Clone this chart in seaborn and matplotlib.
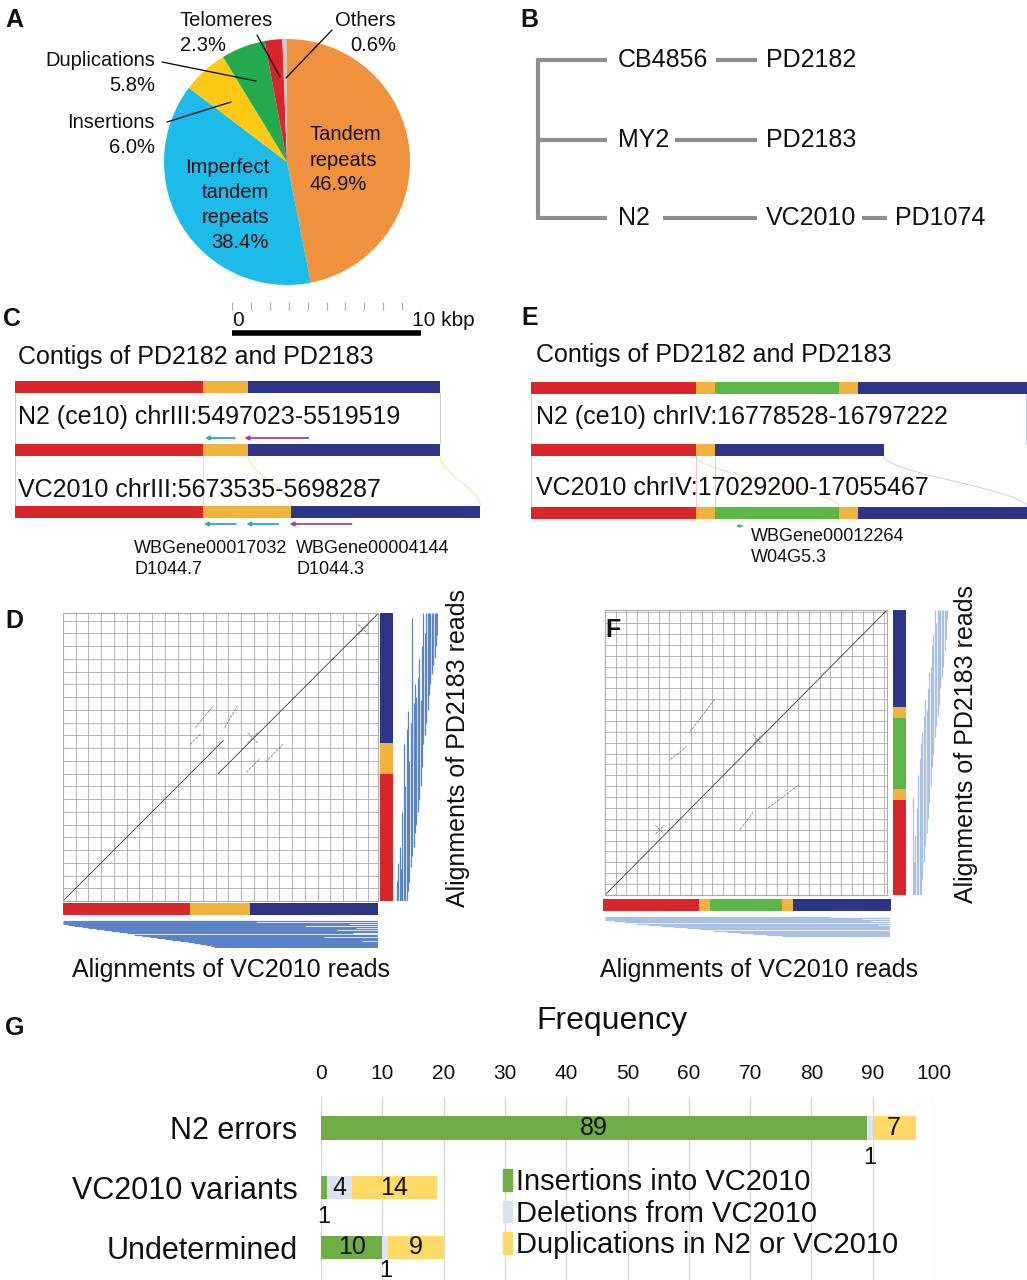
import numpy as np
import matplotlib
matplotlib.use('Agg')
import matplotlib.pyplot as plt
from matplotlib.patches import Patch
import seaborn as sns

sns.set_theme(style='white')
plt.rcParams['font.family'] = ['Liberation Sans', 'DejaVu Sans']
plt.rcParams['text.color'] = '#111111'
plt.rcParams['xtick.color'] = '#111111'
plt.rcParams['ytick.color'] = '#111111'

# ---------------- data ----------------
pie_labels = ['Tandem repeats', 'Imperfect tandem repeats', 'Insertions',
              'Duplications', 'Telomeres', 'Others']
pie_share = [46.9, 38.4, 6.0, 5.8, 2.3, 0.6]
pie_colors = ['#F0923D', '#1CBBEA', '#FDC913', '#24AA4F', '#D8262C', '#C9C9C9']

strains_wild = ['CB4856', 'MY2', 'N2']
strains_derived = ['PD2182', 'PD2183', 'VC2010']
strain_final = 'PD1074'

RED, YEL, BLU, GRN = '#D9262B', '#F2B33D', '#2C3587', '#5CB748'

# contig pieces in kbp (panel C / D)
c_colors = [RED, YEL, BLU]
c_contig_len = [10.0, 2.4, 10.2]
c_n2_len = [10.0, 2.4, 10.2]
c_vc_len = [10.0, 4.7, 10.05]
c_gene_n2_start = [11.7, 15.6]
c_gene_n2_end = [10.1, 12.2]
c_gene_n2_col = ['#2BB0A8', '#A040B0']
c_gene_vc_start = [11.75, 14.0, 17.9]
c_gene_vc_end = [10.05, 12.3, 14.6]
c_gene_vc_col = ['#2BB0A8', '#2BB0A8', '#A040B0']

# contig pieces in kbp (panel E / F)
e_colors = [RED, YEL, GRN, YEL, BLU]
e_contig_len = [8.73, 1.0, 6.56, 1.0, 8.94]
e_n2_len = [8.73, 1.0, 8.94]
e_n2_colors = [RED, YEL, BLU]
e_vc_len = [8.73, 1.0, 6.56, 1.0, 8.94]

# dot plot alignments (x = VC2010 kbp, y = PD2183 kbp); first two are the main lines
d_seg_x0 = [0.0, 12.2, 10.4, 12.7, 10.0, 14.4, 15.9, 14.5, 14.5, 23.2, 23.2]
d_seg_y0 = [0.0, 10.0, 13.6, 13.6, 12.3, 10.1, 10.9, 12.4, 13.2, 20.9, 21.7]
d_seg_x1 = [12.6, 24.75, 11.8, 13.7, 10.8, 15.5, 17.3, 15.3, 15.3, 24.0, 24.0]
d_seg_y1 = [12.6, 22.55, 15.3, 15.3, 13.1, 11.2, 12.3, 13.2, 12.4, 21.7, 20.9]

f_seg_x0 = [0.0, 6.1, 7.9, 12.6, 15.2, 4.7, 4.7, 13.8, 13.8]
f_seg_y0 = [0.0, 12.45, 15.0, 6.0, 8.0, 5.6, 6.4, 13.9, 14.7]
f_seg_x1 = [26.27, 7.6, 10.25, 13.8, 18.0, 5.5, 5.5, 14.6, 14.6]
f_seg_y1 = [26.2, 13.65, 18.0, 7.6, 10.1, 6.4, 5.6, 14.7, 13.9]

# read alignments (kbp)
d_vc_start = [0, 0, 0, 0, 0.4, 0.9, 1.5, 2.0, 2.6, 3.2, 3.8, 4.4, 5.0, 5.6, 6.2,
              6.8, 7.4, 8.0, 8.6, 9.2, 9.8, 10.3, 10.8, 11.2, 11.6, 11.9]
d_vc_end = [24.75, 15.2, 24.75, 22.5, 24.75, 19.0, 24.75, 23.0, 24.75, 21.5, 24.75,
            24.75, 22.8, 24.75, 24.75, 20.5, 24.75, 24.75, 24.75, 23.5, 24.75,
            24.75, 24.75, 24.75, 24.75, 24.75]
d_pd_start = [0, 0, 0, 0, 0, 0, 0, 0, 0.8, 1.5, 2.7, 3.5, 4.2, 5.3, 6.0, 7.0, 7.9,
              9.0, 10.5, 12.3, 13.0, 14.0, 15.0, 16.2, 17.0, 17.8, 18.5, 19.1,
              20.0, 20.9]
d_pd_end = [1.6, 3.0, 4.2, 2.5, 7.0, 12.3, 9.0, 13.5, 14.9, 11.0, 14.0, 22.2, 15.5,
            17.0, 16.0, 17.5, 19.0, 15.8, 20.0, 22.6, 21.0, 22.6, 22.6, 22.6,
            22.6, 22.6, 22.6, 22.6, 22.6, 22.6]
f_vc_start = [0, 0, 0, 0, 0.8, 1.8, 2.9, 4.0, 5.2, 6.4, 7.6, 8.8, 10.0, 11.2,
              12.4, 13.6, 14.9, 16.3]
f_vc_end = [20.7, 26.27, 23.7, 26.27, 24.5, 26.27, 26.27, 25.2, 26.27, 26.27,
            26.27, 26.27, 26.27, 26.27, 26.27, 26.27, 26.27, 26.27]
f_pd_start = [0, 0, 0, 0, 0, 0, 0, 1.5, 3.0, 4.5, 5.7, 7.0, 8.5, 10.0, 11.8,
              13.0, 14.5, 15.5, 16.4, 17.5, 19.0, 20.0, 21.0, 22.5, 23.5, 25.4]
f_pd_end = [9.0, 3.0, 5.5, 8.0, 11.0, 12.5, 14.0, 15.0, 16.5, 18.0, 17.0, 19.0,
            20.5, 21.0, 23.0, 24.0, 26.2, 25.0, 26.2, 26.2, 26.2, 26.2, 26.2,
            26.2, 26.2, 26.2]

# panel G
g_categories = ['N2 errors', 'VC2010 variants', 'Undetermined']
g_series = ['Insertions into VC2010', 'Deletions from VC2010',
            'Duplications in N2 or VC2010']
g_insert = np.array([89, 1, 10])
g_delete = np.array([1, 4, 1])
g_dup = np.array([7, 14, 9])
g_colors = ['#70AD47', '#DAE3F3', '#FFD966']

# ---------------- figure ----------------
W, H = 1027, 1280
fig = plt.figure(figsize=(W / 100, H / 100), dpi=100)


def px_axes(x0, y0, x1, y1):
    ax = fig.add_axes([x0 / W, 1 - y1 / H, (x1 - x0) / W, (y1 - y0) / H])
    ax.patch.set_visible(False)
    return ax


def draw_contig(ax, lengths, colors, y, h):
    lefts = np.concatenate([[0], np.cumsum(lengths)[:-1]])
    ax.barh(y, lengths, left=lefts, height=h, color=colors, linewidth=0)


def link(ax, xa, xb, ya, yb, color):
    t = np.linspace(0, 1, 40)
    s = 3 * t ** 2 - 2 * t ** 3
    ax.plot(xa + (xb - xa) * s, ya + (yb - ya) * t, color=color, lw=0.6, alpha=0.5)


# A: pie
axp = px_axes(164, 39, 410, 285)
axp.pie(pie_share, colors=pie_colors, startangle=90, counterclock=False,
        radius=1, wedgeprops=dict(linewidth=0))
axp.set_xlim(-1, 1)
axp.set_ylim(-1, 1)

# C: contigs
axc = px_axes(15, 370, 520, 530)
axc.set_xlim(0, 505 / 18.8)
axc.set_ylim(530, 370)
axc.axis('off')
draw_contig(axc, c_contig_len, c_colors, 387, 12)
draw_contig(axc, c_n2_len, c_colors, 450, 12)
draw_contig(axc, c_vc_len, c_colors, 512, 12)
axc.plot([0, 0], [393, 444], color=RED, lw=0.6, alpha=0.35)
axc.plot([sum(c_n2_len)] * 2, [393, 444], color=BLU, lw=0.6, alpha=0.3)
axc.plot([0, 0], [456, 506], color=RED, lw=0.6, alpha=0.35)
link(axc, c_n2_len[0], c_vc_len[0], 456, 506, YEL)
link(axc, sum(c_n2_len[:2]), sum(c_vc_len[:2]), 456, 506, YEL)
link(axc, sum(c_n2_len), sum(c_vc_len), 456, 506, YEL)
for s, e, col in zip(c_gene_n2_start, c_gene_n2_end, c_gene_n2_col):
    axc.annotate('', xy=(e, 438), xytext=(s, 438),
                 arrowprops=dict(arrowstyle='-|>', color=col, lw=1.3,
                                 mutation_scale=6, shrinkA=0, shrinkB=0))
for s, e, col in zip(c_gene_vc_start, c_gene_vc_end, c_gene_vc_col):
    axc.annotate('', xy=(e, 524), xytext=(s, 524),
                 arrowprops=dict(arrowstyle='-|>', color=col, lw=1.3,
                                 mutation_scale=6, shrinkA=0, shrinkB=0))

# C: scale bar
axs = px_axes(232, 298, 421, 340)
axs.set_xlim(0, 10)
axs.set_ylim(340, 298)
axs.axis('off')
axs.vlines(np.arange(0, 11), 302, 310, color='#AAAAAA', lw=0.8)
axs.hlines(333, 0, 10, color='black', lw=4)

# E: contigs
axe = px_axes(531, 370, 1027, 530)
axe.set_xlim(0, 496 / 18.9)
axe.set_ylim(530, 370)
axe.axis('off')
draw_contig(axe, e_contig_len, e_colors, 388, 12)
draw_contig(axe, e_n2_len, e_n2_colors, 450, 12)
draw_contig(axe, e_vc_len, e_colors, 513, 12)
axe.plot([0.02, 0.02], [394, 507], color=RED, lw=0.6, alpha=0.35)
axe.plot([sum(e_contig_len) - 0.02] * 2, [394, 444], color=BLU, lw=0.6, alpha=0.3)
axe.plot([e_n2_len[0]] * 2, [456, 507], color=RED, lw=0.6, alpha=0.3)
axe.plot([sum(e_n2_len[:2])] * 2, [456, 507], color=RED, lw=0.6, alpha=0.3)
link(axe, e_n2_len[0], sum(e_vc_len[:3]), 456, 507, '#F0A080')
link(axe, sum(e_n2_len), sum(e_vc_len) - 0.02, 456, 507, '#8090D0')
axe.annotate('', xy=(10.85, 526), xytext=(11.2, 526),
             arrowprops=dict(arrowstyle='-|>', color='#2BB0A8', lw=1,
                             mutation_scale=4, shrinkA=0, shrinkB=0))


# D / F: dot plots
def dotplot(box, xlen, ylen, x0, y0, x1, y1, n_main):
    ax = px_axes(*box)
    ax.patch.set_visible(True)
    ax.set_facecolor('white')
    ax.set_xlim(0, xlen)
    ax.set_ylim(0, ylen)
    ax.set_xticks(np.arange(0, xlen, 1))
    ax.set_yticks(np.arange(0, ylen, 1))
    ax.grid(True, color='#AAAAAA', lw=0.6)
    ax.tick_params(length=0, labelbottom=False, labelleft=False)
    for sp in ax.spines.values():
        sp.set_color('#AAAAAA')
        sp.set_linewidth(0.8)
    for k, (a, b, c, d) in enumerate(zip(x0, y0, x1, y1)):
        if k < n_main:
            ax.plot([a, c], [b, d], color='#3A3A3A', lw=0.6)
        else:
            ax.plot([a, c], [b, d], color='#6A6A6A', lw=0.5, ls=(0, (4, 1.5)))
    return ax


def hbar(box, lengths, colors, xlen):
    ax = px_axes(*box)
    ax.set_xlim(0, xlen)
    ax.set_ylim(0, 1)
    ax.axis('off')
    draw_contig(ax, lengths, colors, 0.5, 1)


def vbar(box, lengths, colors, ylen):
    ax = px_axes(*box)
    ax.set_ylim(0, ylen)
    ax.set_xlim(0, 1)
    ax.axis('off')
    bottoms = np.concatenate([[0], np.cumsum(lengths)[:-1]])
    ax.bar(0.5, lengths, bottom=bottoms, width=1, color=colors, linewidth=0)


def reads_h(box, starts, ends, xlen, color):
    ax = px_axes(*box)
    ax.set_xlim(0, xlen)
    ax.set_ylim(len(starts) - 0.5, -0.5)
    ax.axis('off')
    ax.hlines(np.arange(len(starts)), starts, ends, color=color, lw=0.9)


def reads_v(box, starts, ends, ylen, color):
    ax = px_axes(*box)
    ax.set_ylim(0, ylen)
    ax.set_xlim(-0.5, len(starts) - 0.5)
    ax.axis('off')
    ax.vlines(np.arange(len(starts)), starts, ends, color=color, lw=0.9)


dotplot((63, 613, 378, 901), 24.75, 22.6, d_seg_x0, d_seg_y0, d_seg_x1, d_seg_y1, 2)
hbar((63, 903, 378, 915), c_vc_len, c_colors, 24.75)
vbar((380, 613, 393, 901), c_contig_len, c_colors, 22.6)
reads_h((63, 920, 378, 948), d_vc_start, d_vc_end, 24.75, '#5B84C8')
reads_v((396, 613, 438, 901), d_pd_start, d_pd_end, 22.6, '#5B84C8')

dotplot((605, 610, 887, 895), 26.27, 26.2, f_seg_x0, f_seg_y0, f_seg_x1, f_seg_y1, 1)
hbar((603, 899, 891, 911), e_vc_len, e_colors, sum(e_vc_len))
vbar((893, 610, 906, 895), e_contig_len, e_colors, sum(e_contig_len))
reads_h((605, 916, 890, 937), f_vc_start, f_vc_end, 26.27, '#A9C0E6')
reads_v((912, 610, 948, 895), f_pd_start, f_pd_end, 26.2, '#A9C0E6')

# G: stacked bars
axg = px_axes(321, 1097, 934, 1280)
sns.barplot(x=g_insert + g_delete + g_dup, y=g_categories, orient='h',
            color=g_colors[2], saturation=1, width=0.39, linewidth=0, ax=axg)
sns.barplot(x=g_insert + g_delete, y=g_categories, orient='h',
            color=g_colors[1], saturation=1, width=0.39, linewidth=0, ax=axg)
sns.barplot(x=g_insert, y=g_categories, orient='h',
            color=g_colors[0], saturation=1, width=0.39, linewidth=0, ax=axg)
axg.set_xlim(0, 100)
axg.set_ylim(2.55, -0.52)
axg.set_xlabel('')
axg.set_ylabel('')
axg.xaxis.tick_top()
axg.set_xticks(np.arange(0, 101, 10))
axg.tick_params(axis='x', length=0, pad=10, labelsize=15, labelcolor='#111111')
axg.tick_params(axis='y', length=0, pad=17, labelsize=22, labelcolor='#111111')
axg.grid(axis='x', color='#D9D9D9', lw=1)
axg.set_axisbelow(True)
for sp in axg.spines.values():
    sp.set_visible(False)
for i in range(len(g_categories)):
    left = 0
    for v in (g_insert[i], g_delete[i], g_dup[i]):
        if v == 1:
            axg.text(left + 0.5, i + 0.5 - 0.1 * (i == 2), '1', ha='center',
                     va='center', fontsize=17)
        elif v > 1:
            axg.text(left + v / 2, i, str(v), ha='center', va='center', fontsize=18)
        left += v
axg.legend(handles=[Patch(color=c) for c in g_colors], labels=g_series,
           loc='upper left', bbox_to_anchor=(503 / W, 1 - 1168 / H),
           bbox_transform=fig.transFigure, frameon=False, fontsize=21,
           handlelength=0.3, handleheight=0.75, handletextpad=0.15,
           labelspacing=0.12, borderpad=0, borderaxespad=0)

# ---------------- overlay: labels, tree, annotations ----------------
ov = px_axes(0, 0, W, H)
ov.set_xlim(0, W)
ov.set_ylim(H, 0)
ov.axis('off')

for lab, (x, y) in zip('ABCDEFG', [(5, 20), (520, 20), (3, 319), (5, 621),
                                   (521, 318), (605, 630), (5, 1028)]):
    ov.text(x, y, lab, fontsize=18, fontweight='bold', ha='left', va='center')

# pie labels
ov.text(310, 160, 'Tandem\nrepeats\n46.9%', ha='left', va='center',
        fontsize=14.5, linespacing=1.4)
ov.text(269, 205, 'Imperfect\ntandem\nrepeats\n38.4%', ha='right', va='center',
        fontsize=14.5, linespacing=1.4, multialignment='right')
ov.text(180, 33, 'Telomeres\n2.3%', ha='left', va='center', fontsize=14.5,
        linespacing=1.4)
ov.text(396, 33, 'Others\n0.6%', ha='right', va='center', fontsize=14.5,
        linespacing=1.4, multialignment='right')
ov.text(155, 73, 'Duplications\n5.8%', ha='right', va='center', fontsize=14.5,
        linespacing=1.4, multialignment='right')
ov.text(155, 135, 'Insertions\n6.0%', ha='right', va='center', fontsize=14.5,
        linespacing=1.4, multialignment='right')
for (xa, ya), (xb, yb) in [((162, 62), (256, 81)), ((167, 122), (231, 102)),
                           ((257, 35), (280, 77)), ((332, 30), (286, 78))]:
    ov.plot([xa, xb], [ya, yb], color='black', lw=0.9)

# B: strain tree
TG = '#8E8E8E'
ov.plot([538, 538], [58, 220], color=TG, lw=3, solid_capstyle='butt')
for y, wild, derived, x_from in zip([60, 140, 218], strains_wild, strains_derived,
                                    [716, 675, 663]):
    ov.plot([538, 607], [y, y], color=TG, lw=3, solid_capstyle='butt')
    ov.text(618, y, wild, ha='left', va='center', fontsize=18)
    ov.plot([x_from, 757], [y, y], color=TG, lw=3, solid_capstyle='butt')
    ov.text(766, y, derived, ha='left', va='center', fontsize=18)
ov.plot([862, 887], [218, 218], color=TG, lw=3, solid_capstyle='butt')
ov.text(895, 218, strain_final, ha='left', va='center', fontsize=18)

# C / E texts
ov.text(232, 320, '0', ha='left', va='center', fontsize=15)
ov.text(412, 320, '10 kbp', ha='left', va='center', fontsize=15)
ov.text(18, 357, 'Contigs of PD2182 and PD2183', ha='left', va='center', fontsize=18)
ov.text(18, 417, 'N2 (ce10) chrIII:5497023-5519519', ha='left', va='center', fontsize=18)
ov.text(18, 490, 'VC2010 chrIII:5673535-5698287', ha='left', va='center', fontsize=18)
ov.text(134, 559, 'WBGene00017032\nD1044.7', ha='left', va='center', fontsize=13,
        linespacing=1.3)
ov.text(296, 559, 'WBGene00004144\nD1044.3', ha='left', va='center', fontsize=13,
        linespacing=1.3)
ov.text(536, 355, 'Contigs of PD2182 and PD2183', ha='left', va='center', fontsize=18)
ov.text(536, 417, 'N2 (ce10) chrIV:16778528-16797222', ha='left', va='center', fontsize=18)
ov.text(536, 488, 'VC2010 chrIV:17029200-17055467', ha='left', va='center', fontsize=18)
ov.text(751, 547, 'WBGene00012264\nW04G5.3', ha='left', va='center', fontsize=13,
        linespacing=1.3)

# D / F axis captions
ov.text(231, 970, 'Alignments of VC2010 reads', ha='center', va='center', fontsize=18)
ov.text(759, 970, 'Alignments of VC2010 reads', ha='center', va='center', fontsize=18)
ov.text(458, 748, 'Alignments of PD2183 reads', ha='center', va='center',
        fontsize=18, rotation=90)
ov.text(966, 744, 'Alignments of PD2183 reads', ha='center', va='center',
        fontsize=18, rotation=90)

# G title
ov.text(612, 1021, 'Frequency', ha='center', va='center', fontsize=23)

fig.savefig('out.png', dpi=100)
